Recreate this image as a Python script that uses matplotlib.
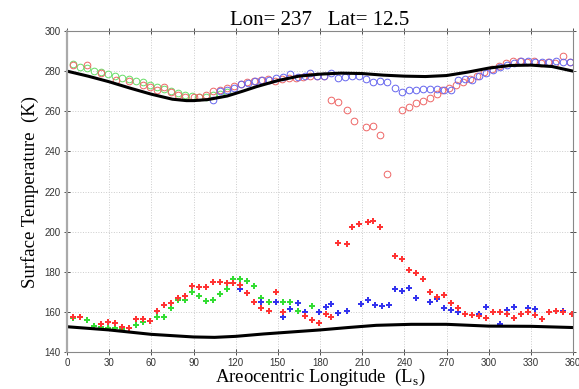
import matplotlib
matplotlib.use("Agg")
import matplotlib.pyplot as plt

# upper black curve (model, clear sky)
line_hi_ls = [0, 15, 30, 45, 60, 75, 85, 90, 100, 114, 125, 135, 150, 165, 180, 195,
              210, 225, 240, 255, 270, 285, 300, 315, 330, 345, 360]
line_hi_t = [280, 277.5, 274.7, 271.5, 268.5, 266, 265.3, 265.3, 265.8, 267.6, 270, 272.3,
             275.3, 277.5, 278.5, 279, 278.8, 278, 277.5, 277.3, 277.8, 279.5, 281.5,
             282.8, 283, 282.3, 280]
# lower black curve
line_lo_ls = [0, 30, 60, 90, 105, 120, 140, 160, 180, 200, 220, 245, 270, 300, 330, 345, 360]
line_lo_t = [152.6, 151, 148.8, 147.5, 147.3, 147.8, 149, 150, 151, 152.2, 153.3, 153.8,
             153.8, 152.9, 152.8, 152.5, 152.2]

# open circles (upper branch)
gc_ls = [4, 9, 14, 19, 24, 29, 34, 39, 44, 49, 54, 59, 64, 69, 74, 79, 84, 89, 94, 99,
         104, 109, 114]
gc_t = [283.5, 282, 281.5, 280, 279.5, 278.5, 277.5, 276.5, 276, 275, 274.5, 273, 272,
        271, 270, 269, 268, 267.5, 267, 267, 268, 268.5, 269.5]

rc_ls = [4, 14, 24, 35, 44, 54, 59, 64, 69, 74, 79, 84, 90, 94, 99, 104, 109, 114, 119,
         124, 128, 133, 138, 143, 148, 153, 158, 163, 168, 173, 178, 183, 188, 193, 199,
         204, 213, 218, 223, 228, 238, 243, 248, 253, 258, 263, 267, 272, 277, 282, 287,
         292, 297, 302, 307, 312, 317, 322, 327, 332, 337, 342, 347, 353, 358]
rc_t = [283, 283, 279, 275.6, 275, 273, 272, 270.6, 272.3, 269.8, 268, 267, 267, 267,
        268, 270, 270.5, 271.5, 272.5, 273.5, 274.5, 275, 275.5, 276, 275, 276, 276.5,
        276.5, 277, 277.5, 277.5, 277.5, 265.6, 264.5, 260.6, 255.3, 252, 252.6, 248.2,
        228.7, 260.5, 262, 264, 265, 266.5, 268.5, 270.5, 271.5, 273, 274.5, 276, 277.5,
        279.5, 281, 282.5, 284, 285, 285, 284.5, 285, 284, 284.5, 284, 287.5, 284.5]

bc_ls = [104, 109, 114, 119, 124, 129, 134, 139, 144, 149, 154, 159, 164, 169, 173, 178,
         183, 188, 193, 198, 203, 208, 213, 218, 223, 228, 233, 238, 243, 248, 253, 258,
         263, 268, 273, 278, 283, 288, 293, 298, 303, 308, 313, 318, 323, 328, 333, 338,
         343, 348, 353, 358]
bc_t = [265.6, 270, 270.5, 271.5, 273.5, 274, 275, 275.5, 275.5, 276.5, 277, 278.5, 277,
        277.5, 279, 277.5, 277.5, 279, 276.5, 277, 277.5, 277.5, 275.9, 274.8, 275, 274.8,
        271.4, 269.8, 270.5, 270.8, 271, 271, 271, 270.8, 270.8, 275.6, 276, 275.5, 277.5,
        279, 280.6, 282, 283, 284, 285, 285, 284.5, 284.5, 284.5, 285, 284.5, 284.7]

# stars (lower branch)
gs_ls = [4, 9, 14, 19, 24, 29, 34, 39, 44, 49, 54, 59, 64, 69, 74, 79, 84, 89, 94, 99,
         104, 109, 114, 118, 123, 128, 133, 138, 144, 149, 154, 159, 164, 169, 174]
gs_t = [157, 157.5, 156, 153, 152.5, 152, 152, 151.5, 151.8, 153.7, 155, 155.5, 157.6,
        157.6, 161.8, 165.8, 166, 169.7, 167.9, 165.4, 166, 168.7, 171.2, 176.2, 176.2,
        175.5, 172.9, 166.7, 165.1, 169.7, 165.1, 165.1, 160.6, 160, 163]

rs_ls = [4, 9, 24, 29, 34, 39, 44, 49, 54, 59, 64, 69, 74, 79, 84, 89, 94, 99, 104, 109,
         114, 118, 123, 128, 133, 138, 144, 149, 154, 169, 174, 179, 184, 188, 193, 199,
         203, 208, 214, 218, 223, 233, 238, 243, 248, 253, 258, 263, 268, 273, 278, 283,
         288, 293, 298, 303, 308, 313, 318, 323, 328, 333, 338, 343, 348, 353, 359]
rs_t = [157.3, 157.3, 154, 155, 154.5, 152.6, 152, 156.3, 156.5, 155.5, 160.6, 163.4,
        164.3, 166.8, 168, 172.9, 172.2, 172.2, 175, 175, 174.2, 174.5, 173.4, 169.5,
        165.1, 161.8, 160.6, 169.7, 160, 158, 156, 154.3, 159, 157.6, 194.5, 193.8,
        202.4, 203.6, 205, 205.4, 202.4, 187.8, 186.2, 180.9, 179.5, 176.2, 170, 167.3,
        168.4, 164.3, 161.8, 159, 158.5, 158, 157, 160, 160, 159, 157, 159, 160, 158.5,
        156.3, 160, 160.4, 160, 159]

bs_ls = [123, 138, 144, 149, 154, 159, 164, 169, 179, 184, 188, 193, 199, 209, 214, 219,
         224, 229, 233, 238, 243, 248, 258, 263, 268, 273, 278, 283, 288, 293, 298, 303,
         308, 313, 318, 323, 328, 333, 338, 343, 348, 353, 359]
bs_t = [171.2, 165.1, 160.6, 165.1, 157.6, 161.3, 164.3, 160, 160, 162.3, 163.9, 159.3,
        160.4, 163.9, 165.9, 163.4, 162.9, 163.4, 171.2, 170.2, 171.9, 167, 165.1, 166.5,
        162, 161, 160, 159, 158.5, 159, 162.6, 160, 153.8, 160.9, 162.3, 159, 161.8,
        161.5, 156.3, 160, 160.4, 160.4, 159]

x_ticks = list(range(0, 361, 30))
y_ticks = list(range(140, 301, 20))

fig = plt.figure(figsize=(5.79, 3.89), dpi=100)
ax = fig.add_axes([0.1157, 0.0951, 0.874, 0.8252])

ax.grid(True, color="#cccccc", linestyle=":", linewidth=0.7)
ax.set_axisbelow(True)

circ = dict(linestyle="none", marker="o", markersize=4.8, markerfacecolor="none",
            markeredgewidth=0.7)
ax.plot(gc_ls, gc_t, color="#66dd66", **circ)
ax.plot(rc_ls, rc_t, color="#ee6666", **circ)
ax.plot(bc_ls, bc_t, color="#6666ee", **circ)

star = dict(linestyle="none", marker="P", markersize=3.8, markeredgewidth=0)
ax.plot(gs_ls, gs_t, color="#33dd33", **star)
ax.plot(bs_ls, bs_t, color="#3333ee", **star)
ax.plot(rs_ls, rs_t, color="#ff3333", **star)

ax.plot(line_hi_ls, line_hi_t, color="black", linewidth=2.2)
ax.plot(line_lo_ls, line_lo_t, color="black", linewidth=2.2)

ax.set_xlim(0, 360)
ax.set_ylim(140, 300)
ax.set_xticks(x_ticks)
ax.set_yticks(y_ticks)
ax.tick_params(direction="inout", length=5, width=0.6, labelsize=7, colors="#333333",
               top=True, right=True, pad=2, labelfontfamily="Liberation Sans")
for s in ax.spines.values():
    s.set_color("#888888")
    s.set_linewidth(0.8)
ax.spines["left"].set_linewidth(1.6)
ax.spines["left"].set_color("#aaaaaa")

ax.set_title("Lon= 237   Lat= 12.5", fontsize=15, family="Liberation Serif", pad=4)
ax.set_xlabel("Areocentric Longitude  (L$_\\mathregular{s}$)", fontsize=13.5,
              family="Liberation Serif", labelpad=-1)
ax.set_ylabel("Surface Temperature  (K)", fontsize=13.5, family="Liberation Serif",
              labelpad=4)

fig.savefig("out.png", dpi=100)
